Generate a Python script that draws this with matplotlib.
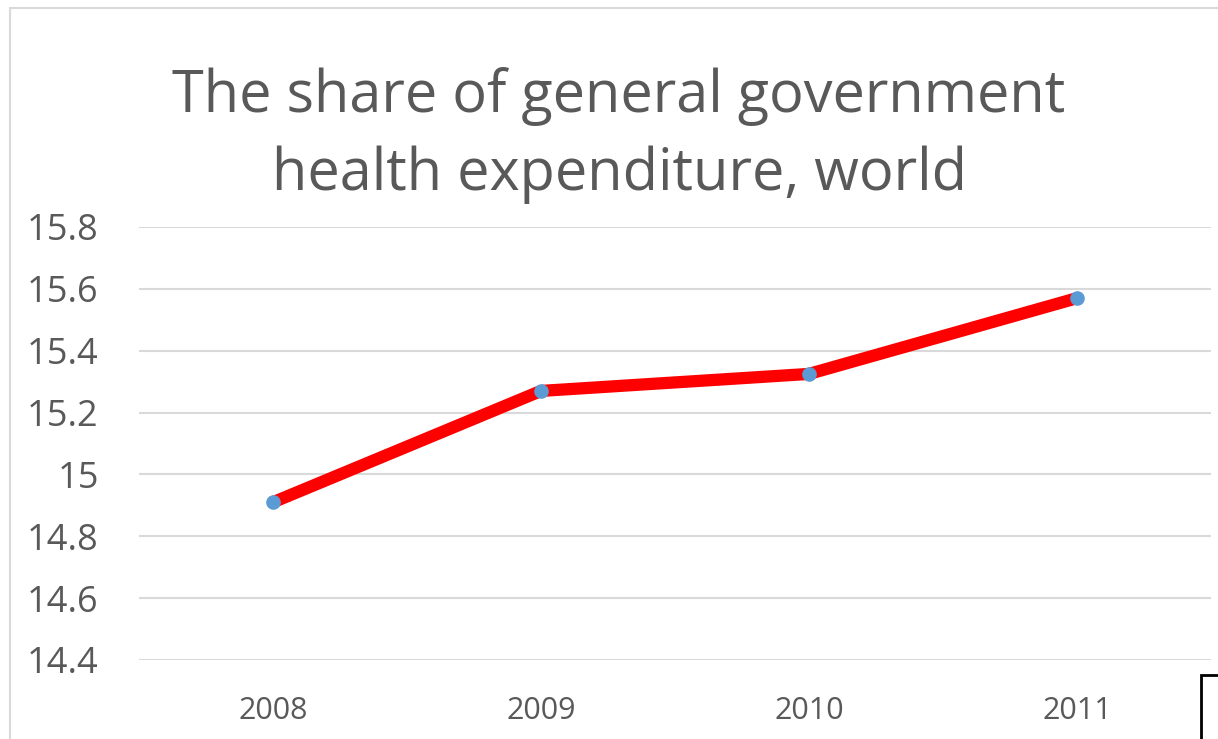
import matplotlib.pyplot as plt
from matplotlib.patches import Rectangle

years = ['2008', '2009', '2010', '2011']
share = [14.91, 15.27, 15.325, 15.57]
y_ticks = [14.4, 14.6, 14.8, 15.0, 15.2, 15.4, 15.6, 15.8]
y_labels = ['14.4', '14.6', '14.8', '15', '15.2', '15.4', '15.6', '15.8']
title_lines = ['The share of general government', 'health expenditure, world']

plt.rcParams['font.family'] = ['Open Sans', 'DejaVu Sans']

W, H = 1218, 739
fig = plt.figure(figsize=(W / 100, H / 100), dpi=100)
ax = fig.add_axes([139 / W, 1 - 660 / H, (1211 - 139) / W, (660 - 227) / H])

ax.plot(range(len(years)), share, color='#ff0000', lw=8.8, solid_capstyle='butt',
        marker='o', markersize=9.5, markerfacecolor='#5b9bd5',
        markeredgecolor='#5b9bd5', zorder=3)

ax.set_xlim(-0.5, len(years) - 0.5)
ax.set_ylim(14.4, 15.8)
ax.set_xticks(range(len(years)))
ax.set_xticklabels(years, fontsize=22, color='#595959')
ax.set_yticks(y_ticks)
ax.set_yticklabels(y_labels, fontsize=26, color='#595959')
ax.tick_params(axis='both', length=0)
ax.tick_params(axis='y', pad=29)
ax.tick_params(axis='x', pad=26)
ax.grid(axis='y', color='#d9d9d9', lw=1.5)
ax.set_axisbelow(True)
for s in ax.spines.values():
    s.set_visible(False)

# two-line title, one baseline per line
for line, base in zip(title_lines, [112, 190]):
    fig.text(619 / W, 1 - base / H, line, ha='center', va='baseline',
             fontsize=41.5, color='#595959')

# chart frame and the edge of the neighbouring box
fig.patches.append(Rectangle((10 / W, -0.1), 2, 1.1 - 8 / H, transform=fig.transFigure,
                             fill=False, ec='#d9d9d9', lw=1.5))
fig.patches.append(Rectangle((1201 / W, -0.1), 1, 0.1 + 1 - 675 / H, transform=fig.transFigure,
                             fill=False, ec='black', lw=2))

fig.savefig('out.png', dpi=100)
